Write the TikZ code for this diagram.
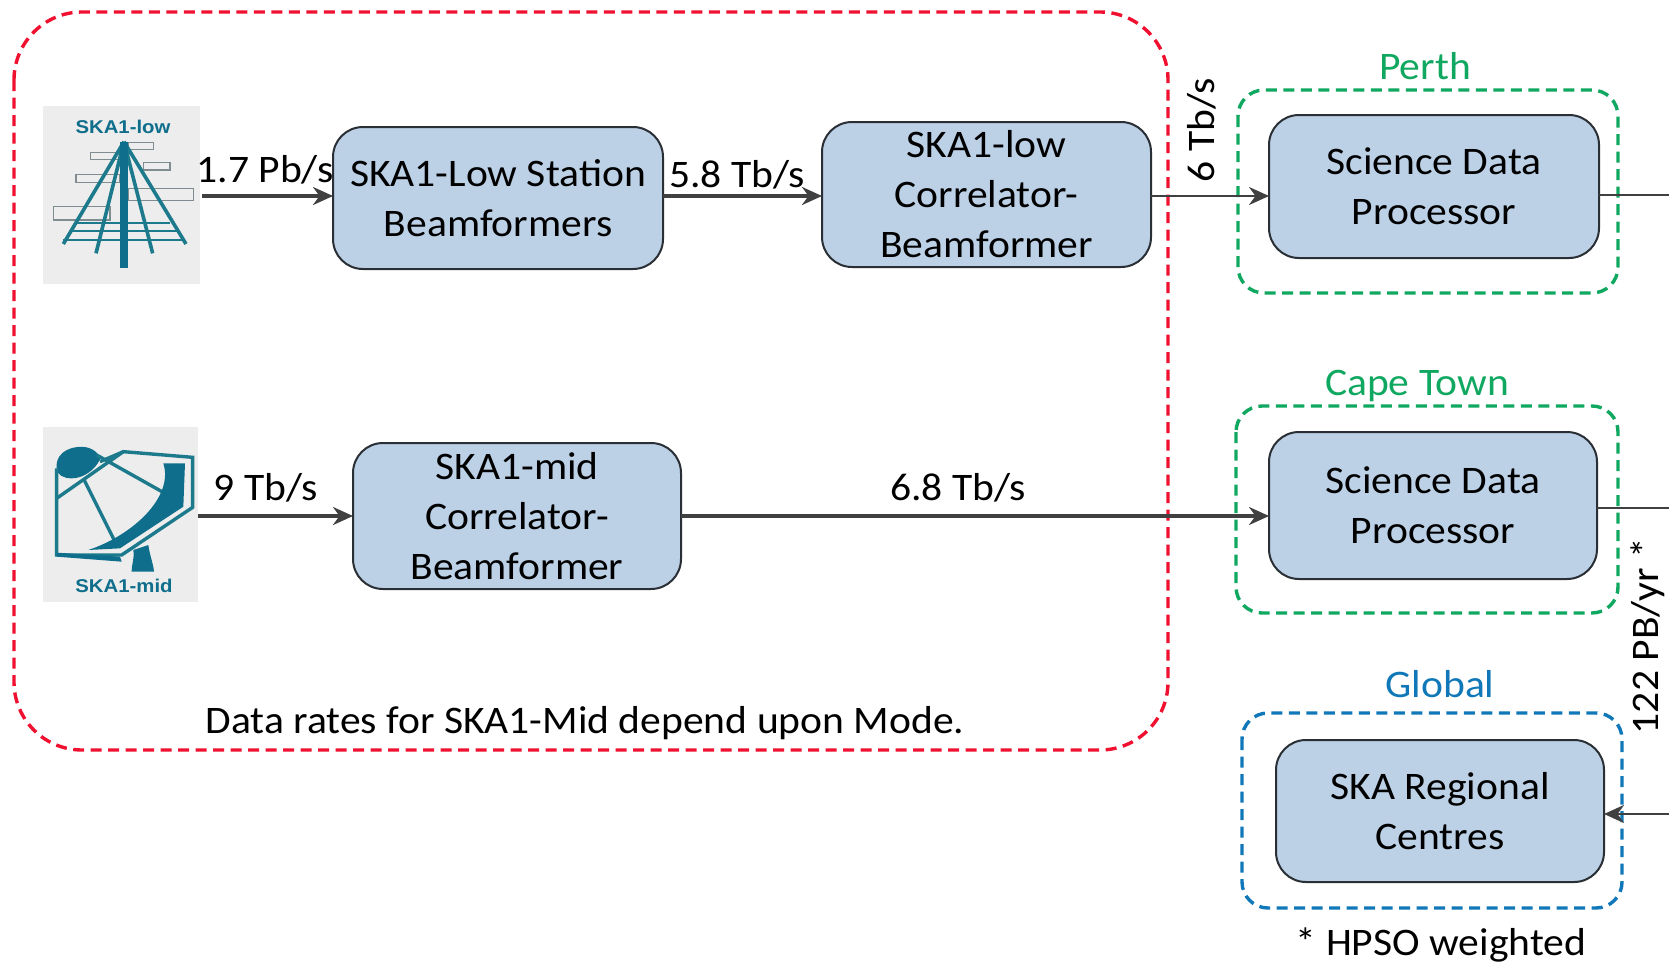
\documentclass[tikz,border=0pt]{standalone}
\usepackage{fontspec}
\setmainfont[FakeStretch=1.066]{Carlito}
\newfontfamily\logofont[FakeStretch=1.1]{Liberation Sans}
\usetikzlibrary{arrows.meta,calc}
\definecolor{boxfill}{HTML}{BCD0E6}
\definecolor{boxline}{HTML}{2A2F35}
\definecolor{wire}{HTML}{404040}
\definecolor{redbox}{HTML}{F01030}
\definecolor{greenbox}{HTML}{10A860}
\definecolor{bluebox}{HTML}{1078B8}
\definecolor{teal}{HTML}{0F6E8C}
\definecolor{tealline}{HTML}{1C7A8C}
\definecolor{logobg}{HTML}{ECEDEC}
\definecolor{logorect}{HTML}{7F8C90}
\tikzset{
  x=1pt,y=-1pt,
  every node/.style={inner sep=0pt,outer sep=0pt},
  procbox/.style={draw=boxline,line width=2pt,fill=boxfill,rounded corners=30pt,align=center,font=\fontsize{39}{50}\selectfont},
  region/.style={line width=3.4pt,dash pattern=on 11pt off 6.5pt,rounded corners=26pt},
  flow/.style={draw=wire,line width=3.3pt,-{Stealth[length=20pt,width=18pt]}},
  thinflow/.style={draw=wire,line width=2.8pt,-{Stealth[length=20pt,width=18pt]}},
  plain/.style={draw=wire,line width=2.8pt},
  lab/.style={font=\fontsize{39}{44}\selectfont,text=black},
  head/.style={font=\fontsize{39}{44}\selectfont},
  logotext/.style={font=\logofont\bfseries\fontsize{18.5}{20}\selectfont,text=teal},
}
\newcommand{\procnode}[6]{%
  \node[procbox,minimum width=#4pt,minimum height=#5pt,anchor=north west] (#1) at (#2,#3) {#6};}
\begin{document}
\begin{tikzpicture}
\useasboundingbox (0,0) rectangle (1669,964);
% regions
\draw[region,draw=redbox,rounded corners=68pt] (14,12) rectangle (1168,750);
\draw[region,draw=greenbox] (1238,90) rectangle (1618,293);
\draw[region,draw=greenbox] (1236,406) rectangle (1618,613);
\draw[region,draw=bluebox] (1242,713) rectangle (1622,908);
% logos
\fill[logobg] (43,106) rectangle (200,284);
\fill[logobg] (43,427) rectangle (198,602);
\coordinate (lowsrc) at (202,196);
\coordinate (midsrc) at (198,516);
\begin{scope}[shift={(0,80)},scale=1/3]
  \draw[logorect,line width=1.4pt]
    (385,188) rectangle (460,208)
    (272,218) rectangle (385,238)
    (430,247) rectangle (510,270)
    (228,283) rectangle (360,307)
    (385,325) rectangle (580,362)
    (160,380) rectangle (330,420);
  \draw[tealline,line width=2pt] (230,430)--(510,430) (210,452)--(530,452) (190,480)--(555,480);
  \draw[tealline,line width=3.6pt] (372,185)--(190,492) (372,185)--(288,520) (372,185)--(458,520) (372,185)--(558,492);
  \draw[teal,line width=7pt] (372,185)--(372,565);
\end{scope}
\node[logotext] (lowlogo) at (123,127) {SKA1-low};
\begin{scope}[shift={(0,400)},scale=1/3]
  \fill[teal] (170,205) .. controls (165,150) and (225,135) .. (260,142) .. controls (285,148) and (300,165) .. (300,178) .. controls (285,210) and (250,235) .. (215,235) .. controls (190,235) and (172,225) .. (170,205) -- cycle;
  \draw[tealline,line join=miter,line width=3.4pt] (300,185)--(370,155)--(578,172)--(578,322)--(365,465)--(170,465)--(170,205);
  \draw[tealline,line width=3.4pt] (170,295)--(370,155) (290,165)--(495,280) (250,235)--(345,425);
  \fill[teal] (490,190)--(555,190)--(550,320)--(360,445)--(265,450) .. controls (400,405) and (522,290) .. (490,190) -- cycle;
  \fill[teal] (170,458)--(360,470)--(365,485)--(170,470)--cycle;
  \fill[teal] (400,450)--(445,435) .. controls (450,470) and (460,490) .. (462,515) -- (395,515) .. controls (395,490) and (405,470) .. (400,450) -- cycle;
\end{scope}
\node[logotext] (midlogo) at (124,586) {SKA1-mid};
% process boxes
\procnode{lowbf}{333}{127}{330}{142}{SKA1-Low Station\\Beamformers}
\procnode{lowcb}{822}{122}{329}{145}{SKA1-low\\Correlator-\\Beamformer}
\procnode{sdpa}{1269}{115}{330}{143}{Science Data\\Processor}
\procnode{sdpb}{1269}{432}{328}{147}{Science Data\\Processor}
\procnode{src}{1276}{740}{328}{142}{SKA Regional\\Centres}
\procnode{midcb}{353}{443}{328}{146}{SKA1-mid\\Correlator-\\Beamformer}
% connectors
\coordinate (ra) at (1669,195);
\coordinate (rb) at (1669,508);
\coordinate (rc) at (1669,814);
\path[flow] (lowsrc) -- (lowsrc -| lowbf.west);
\path[flow] (lowsrc -| lowbf.east) -- (lowsrc -| lowcb.west);
\path[thinflow] (lowsrc -| lowcb.east) -- (lowsrc -| sdpa.west);
\path[flow] (midsrc) -- (midsrc -| midcb.west);
\path[flow] (midsrc -| midcb.east) -- (midsrc -| sdpb.west);
\path[plain] (ra -| sdpa.east) -- (ra);
\path[plain] (rb -| sdpb.east) -- (rb);
\path[thinflow] (rc) -- (rc -| src.east);
% labels
\node[lab] (l1) at (265,170) {1.7 Pb/s};
\node[lab] (l2) at (737,175) {5.8 Tb/s};
\node[lab] (l3) at (266,488) {9 Tb/s};
\node[lab] (l4) at (958,488) {6.8 Tb/s};
\node[lab,rotate=90] (l5) at (1202,130) {6 Tb/s};
\node[lab,rotate=90] (l6) at (1648,636) {122 PB/yr *};
\node[head,text=greenbox] (perth) at (1425,66) {Perth};
\node[head,text=greenbox] (cape) at (1417,386) {Cape Town};
\node[head,text=bluebox] (glob) at (1440,684) {Global};
\node[lab] (hpso) at (1441,945) {* HPSO weighted};
\node[lab] (note) at (585,723) {Data rates for SKA1-Mid depend upon Mode.};
\end{tikzpicture}
\end{document}
